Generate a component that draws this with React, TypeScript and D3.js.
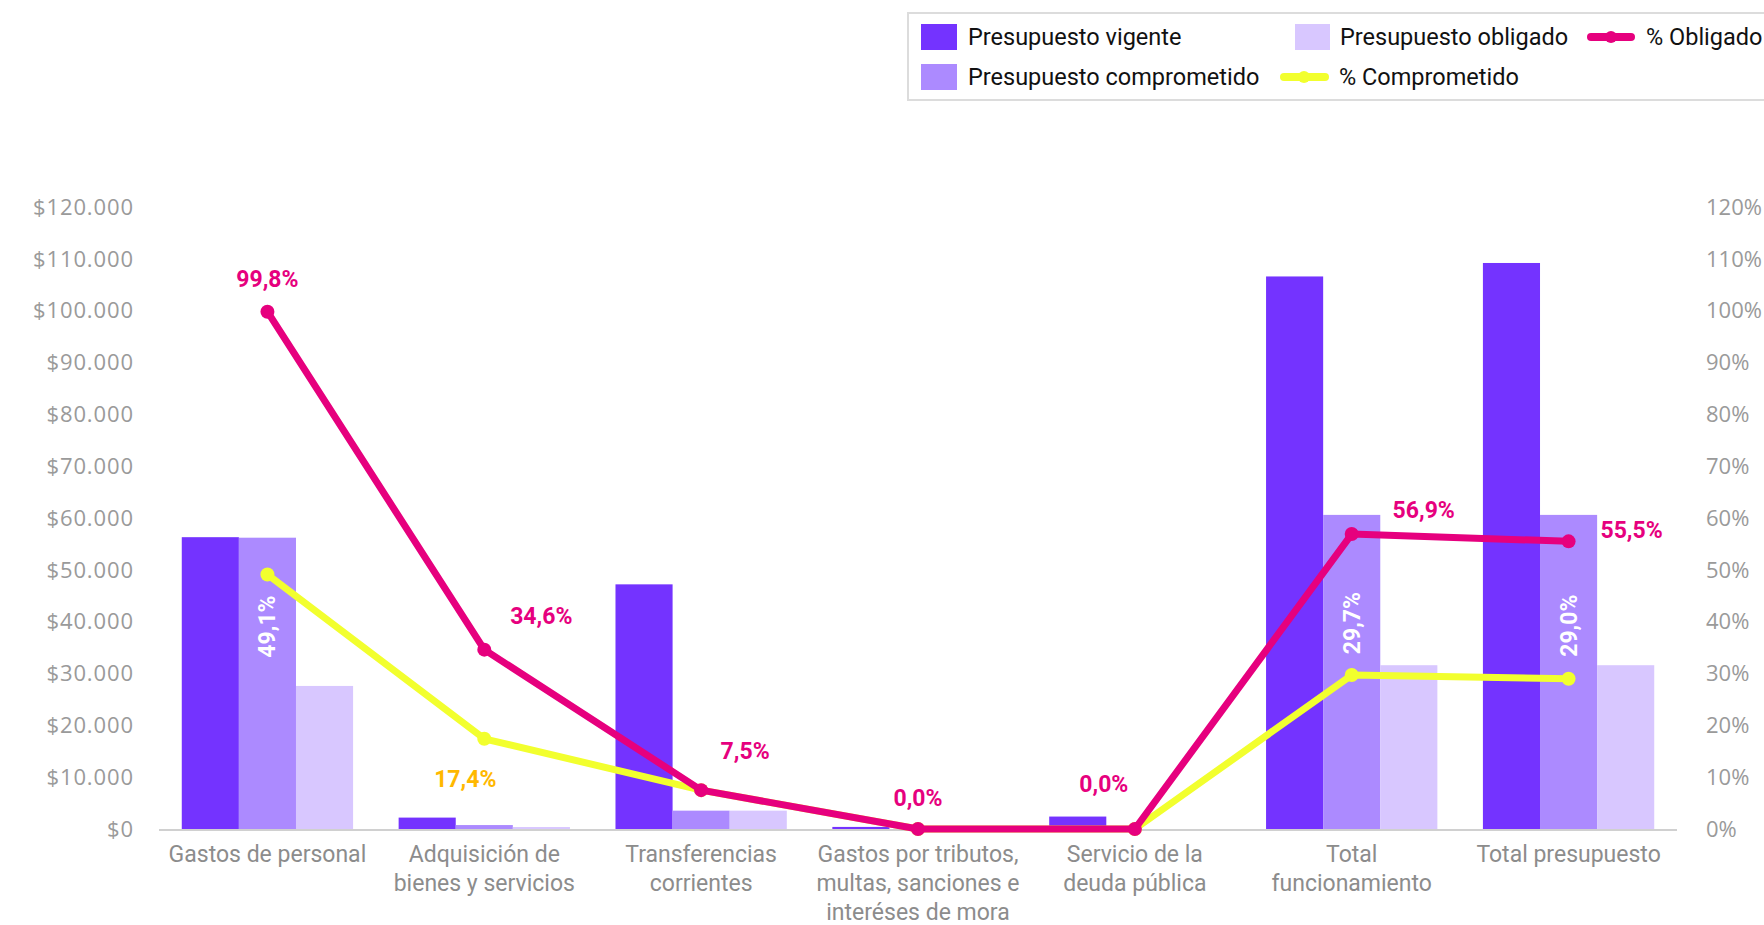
import React from "react";
import * as d3 from "d3";

const categories = [
  "Gastos de personal",
  "Adquisición de bienes y servicios",
  "Transferencias corrientes",
  "Gastos por tributos, multas, sanciones e interéses de mora",
  "Servicio de la deuda pública",
  "Total funcionamiento",
  "Total presupuesto",
];
const categoryLines = [
  ["Gastos de personal"],
  ["Adquisición de", "bienes y servicios"],
  ["Transferencias", "corrientes"],
  ["Gastos por tributos,", "multas, sanciones e", "interéses de mora"],
  ["Servicio de la", "deuda pública"],
  ["Total", "funcionamiento"],
  ["Total presupuesto"],
];
const presupuestoVigente = [56300, 2200, 47200, 400, 2400, 106600, 109200];
const presupuestoComprometido = [56200, 760, 3540, 0, 0, 60600, 60600];
const presupuestoObligado = [27600, 380, 3540, 0, 0, 31600, 31600];
const pctObligado = [99.8, 34.6, 7.5, 0.0, 0.0, 56.9, 55.5];
const pctComprometido = [49.1, 17.4, 7.5, 0.0, 0.0, 29.7, 29.0];
const leftTicks = [0, 10000, 20000, 30000, 40000, 50000, 60000, 70000, 80000, 90000, 100000, 110000, 120000];
const rightTicks = [0, 10, 20, 30, 40, 50, 60, 70, 80, 90, 100, 110, 120];

// label layout (offsets from the point, px)
const pinkLabelOffset: [number, number][] = [[0, -33], [57, -34], [44, -39], [0, -31], [-31, -45], [72, -24], [63, -11]];
const yellowLabelOffset: ([number, number] | null)[] = [[0, 52], [-19, 40], null, null, null, [0, -52], [0, -53]];
const yellowLabelRotated = [true, false, false, false, false, true, true];

const C_VIG = "#7433FF";
const C_COMP = "#AC8AFF";
const C_OBL = "#D8C7FF";
const C_PINK = "#E6007E";
const C_YEL = "#F2FF2E";
const C_ORANGE = "#FFB800";

const W = 1764;
const H = 925;
const left = 159, right = 1677, top = 207, bottom = 829;

export default function App() {
  const x = d3.scaleBand<string>().domain(categories).range([left, right]).paddingInner(0.21).paddingOuter(0.105);
  const sub = d3.scaleBand<string>().domain(["v", "c", "o"]).range([0, x.bandwidth()]).padding(0);
  const y = d3.scaleLinear().domain([0, 120000]).range([bottom, top]);
  const yp = d3.scaleLinear().domain([0, 120]).range([bottom, top]);
  const cx = (i: number) => (x(categories[i]) as number) + x.bandwidth() / 2;
  const fmtMoney = (v: number) => "$" + d3.format(",")(v).replace(/,/g, ".");
  const fmtPct = (v: number) => v.toFixed(1).replace(".", ",") + "%";

  const line = d3.line<number>().x((_, i) => cx(i)).y((d) => yp(d));

  const series = [
    { key: "v", vals: presupuestoVigente, color: C_VIG },
    { key: "c", vals: presupuestoComprometido, color: C_COMP },
    { key: "o", vals: presupuestoObligado, color: C_OBL },
  ];

  const tickFont = "'Open Sans', sans-serif";
  const catFont = "Roboto, sans-serif";

  return (
    <svg width={W} height={H} style={{ position: "absolute", left: 0, top: 0, background: "#fff" }}>
      {/* legend */}
      <g>
        <rect x={908} y={13} width={870} height={87} fill="#fff" stroke="#dcdcdc" strokeWidth={2} />
        <rect x={921} y={24} width={36} height={26} fill={C_VIG} />
        <text x={968} y={45} fontFamily={catFont} fontSize={23.5} fill="#111">Presupuesto vigente</text>
        <rect x={1295} y={24} width={35} height={26} fill={C_OBL} />
        <text x={1340} y={45} fontFamily={catFont} fontSize={23.5} fill="#111">Presupuesto obligado</text>
        <line x1={1591} x2={1631} y1={37} y2={37} stroke={C_PINK} strokeWidth={8} strokeLinecap="round" />
        <circle cx={1611} cy={37} r={6} fill={C_PINK} />
        <text x={1646} y={45} fontFamily={catFont} fontSize={23.5} fill="#111">% Obligado</text>
        <rect x={921} y={64} width={36} height={26} fill={C_COMP} />
        <text x={968} y={85} fontFamily={catFont} fontSize={23.5} fill="#111">Presupuesto comprometido</text>
        <line x1={1284} x2={1325} y1={77} y2={77} stroke={C_YEL} strokeWidth={8} strokeLinecap="round" />
        <circle cx={1304} cy={77} r={6} fill={C_YEL} />
        <text x={1339} y={85} fontFamily={catFont} fontSize={23.5} fill="#111">% Comprometido</text>
      </g>

      {/* left axis */}
      {leftTicks.map((t) => (
        <text key={"l" + t} x={134} y={y(t)} dy="0.35em" textAnchor="end" fontFamily={tickFont} fontSize={22} letterSpacing={0.9} fill="#9a9a9a">
          {fmtMoney(t)}
        </text>
      ))}
      {/* right axis */}
      {rightTicks.map((t) => (
        <text key={"r" + t} x={1706} y={yp(t)} dy="0.35em" textAnchor="start" fontFamily={tickFont} fontSize={22} fill="#9a9a9a">
          {t + "%"}
        </text>
      ))}

      {/* bars */}
      {series.map((s) =>
        s.vals.map((v, i) => (
          <rect
            key={s.key + i}
            x={(x(categories[i]) as number) + (sub(s.key) as number)}
            y={y(v)}
            width={sub.bandwidth()}
            height={bottom - y(v)}
            fill={s.color}
          />
        ))
      )}

      {/* baseline */}
      <line x1={left} x2={right} y1={bottom + 1} y2={bottom + 1} stroke="#d0d0d0" strokeWidth={2} />

      {/* category labels */}
      {categoryLines.map((lines, i) => (
        <text key={"c" + i} x={cx(i)} y={862} textAnchor="middle" fontFamily={catFont} fontSize={23} fill="#8c8c8c">
          {lines.map((l, j) => (
            <tspan key={j} x={cx(i)} dy={j === 0 ? 0 : 29}>{l}</tspan>
          ))}
        </text>
      ))}

      {/* yellow line */}
      <path d={line(pctComprometido) || ""} fill="none" stroke={C_YEL} strokeWidth={7} strokeLinejoin="round" />
      {pctComprometido.map((v, i) => (
        <circle key={"yc" + i} cx={cx(i)} cy={yp(v)} r={7} fill={C_YEL} />
      ))}
      {/* pink line */}
      <path d={line(pctObligado) || ""} fill="none" stroke={C_PINK} strokeWidth={7} strokeLinejoin="round" />
      {pctObligado.map((v, i) => (
        <circle key={"pc" + i} cx={cx(i)} cy={yp(v)} r={7} fill={C_PINK} />
      ))}

      {/* pink labels */}
      {pctObligado.map((v, i) => (
        <text
          key={"pl" + i}
          x={cx(i) + pinkLabelOffset[i][0]}
          y={yp(v) + pinkLabelOffset[i][1]}
          dy="0.35em"
          textAnchor="middle"
          fontFamily={catFont}
          fontWeight={700}
          fontSize={23}
          fill={C_PINK}
        >
          {fmtPct(v)}
        </text>
      ))}
      {/* yellow labels */}
      {pctComprometido.map((v, i) => {
        const off = yellowLabelOffset[i];
        if (!off) return null;
        const lx = cx(i) + off[0];
        const ly = yp(v) + off[1];
        const rot = yellowLabelRotated[i];
        return (
          <text
            key={"yl" + i}
            x={lx}
            y={ly}
            dy="0.35em"
            textAnchor="middle"
            fontFamily={catFont}
            fontWeight={700}
            fontSize={23}
            fill={rot ? "#ffffff" : C_ORANGE}
            transform={rot ? `rotate(-90 ${lx} ${ly})` : undefined}
          >
            {fmtPct(v)}
          </text>
        );
      })}
    </svg>
  );
}
